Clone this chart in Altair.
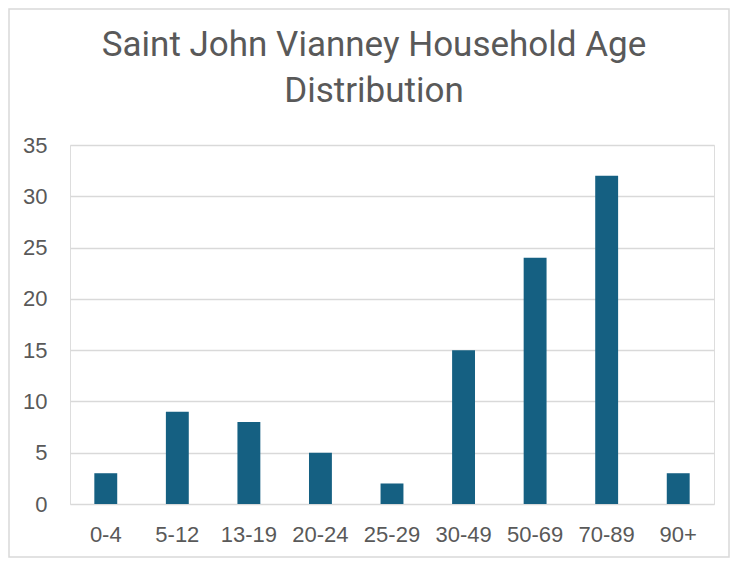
import altair as alt
import pandas as pd

categories = ["0-4", "5-12", "13-19", "20-24", "25-29", "30-49", "50-69", "70-89", "90+"]
counts = [3, 9, 8, 5, 2, 15, 24, 32, 3]
y_ticks = [0, 5, 10, 15, 20, 25, 30, 35]

df = pd.DataFrame({"age": categories, "count": counts})

PLOT_W, PLOT_H = 644, 359
PAD_L, PAD_T, PAD_R, PAD_B = 62, 137, 16, 54
TEXT = "#595959"
GRID = "#d9d9d9"

bars = alt.Chart(df).mark_bar(color="#156082").encode(
    x=alt.X("age:N", sort=categories,
            scale=alt.Scale(paddingInner=0.68, paddingOuter=0.34),
            axis=alt.Axis(title=None, labelAngle=0, ticks=False, domain=False,
                          labelPadding=20, labelFontSize=22, labelFont="Liberation Sans",
                          labelColor=TEXT)),
    y=alt.Y("count:Q", scale=alt.Scale(domain=[0, 35], nice=False),
            axis=alt.Axis(title=None, values=y_ticks, ticks=False, domain=False,
                          labelPadding=23, labelFontSize=22, labelFont="Liberation Sans",
                          labelColor=TEXT, gridColor=GRID, gridWidth=1.6)),
)

border = alt.Chart(pd.DataFrame({"k": [0]})).mark_rect(
    fill=None, stroke=GRID, strokeWidth=1.5
).encode(
    x=alt.value(-PAD_L + 1),
    x2=alt.value(PLOT_W + PAD_R - 1),
    y=alt.value(-PAD_T + 1),
    y2=alt.value(PLOT_H + PAD_B - 1),
)

chart = alt.layer(bars, border).properties(
    width=PLOT_W,
    height=PLOT_H,
    title=alt.TitleParams(
        text=["Saint John Vianney Household Age", "Distribution"],
        font="Roboto", fontSize=35, fontWeight="normal", color=TEXT,
        anchor="middle", frame="group", lineHeight=46, offset=-136, dx=-18,
        baseline="bottom",
    ),
    autosize=alt.AutoSizeParams(type="none"),
    padding={"left": PAD_L, "top": PAD_T, "right": PAD_R, "bottom": PAD_B},
).configure_view(stroke=None).configure(background="white")

chart.save("out.html", embed_options={"renderer": "svg", "actions": False})
